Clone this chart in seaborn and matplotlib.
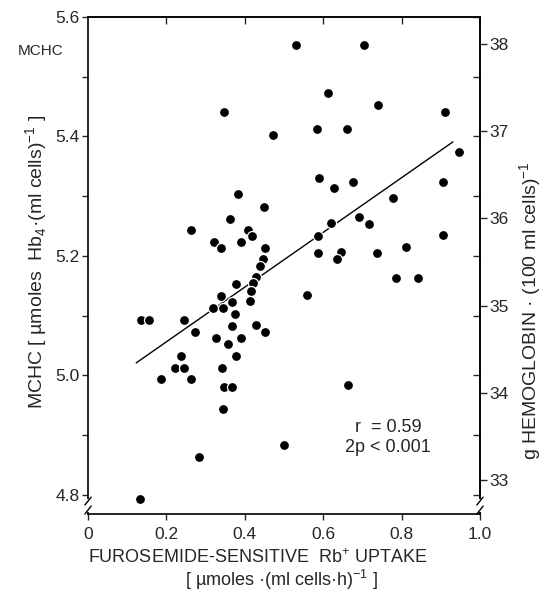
import matplotlib
matplotlib.use("Agg")
import matplotlib.pyplot as plt
from matplotlib.ticker import MultipleLocator, FixedLocator, NullFormatter
import pandas as pd
import seaborn as sns

# values
uptake = [0.531, 0.703, 0.613, 0.741, 0.910, 0.346, 0.585, 0.662, 0.472, 0.946,
          0.590, 0.628, 0.677, 0.905, 0.779, 0.382, 0.449, 0.362, 0.264, 0.408,
          0.418, 0.321, 0.390, 0.338, 0.451, 0.446, 0.438, 0.428, 0.421, 0.415,
          0.377, 0.338, 0.367, 0.318, 0.344, 0.413, 0.374, 0.559, 0.136, 0.156,
          0.246, 0.367, 0.428, 0.274, 0.451, 0.326, 0.390, 0.356, 0.236, 0.377,
          0.221, 0.244, 0.341, 0.185, 0.262, 0.692, 0.718, 0.621, 0.587, 0.905,
          0.587, 0.646, 0.636, 0.738, 0.810, 0.785, 0.841, 0.346, 0.367, 0.344,
          0.500, 0.282, 0.133, 0.664]
mchc = [5.553, 5.553, 5.473, 5.453, 5.441, 5.441, 5.413, 5.413, 5.403, 5.374,
        5.331, 5.314, 5.324, 5.324, 5.297, 5.304, 5.282, 5.262, 5.244, 5.244,
        5.233, 5.223, 5.223, 5.213, 5.213, 5.195, 5.183, 5.165, 5.155, 5.141,
        5.153, 5.133, 5.123, 5.113, 5.113, 5.125, 5.103, 5.135, 5.093, 5.093,
        5.093, 5.083, 5.085, 5.073, 5.073, 5.063, 5.063, 5.053, 5.033, 5.033,
        5.013, 5.013, 5.013, 4.994, 4.994, 5.265, 5.254, 5.255, 5.233, 5.235,
        5.205, 5.207, 5.195, 5.205, 5.215, 5.163, 5.163, 4.981, 4.981, 4.944,
        4.884, 4.864, 4.793, 4.984]

fit_x = [0.123, 0.931]
fit_y = [5.021, 5.391]

x_ticks = [0, 0.2, 0.4, 0.6, 0.8, 1.0]
x_tick_labels = ["0", "0.2", "0.4", "0.6", "0.8", "1.0"]
y_ticks = [4.8, 5.0, 5.2, 5.4, 5.6]
hb_ticks = [33, 34, 35, 36, 37, 38]
g_per_umol = 6.84  # g hemoglobin / 100 ml per umol Hb4 / ml

df = pd.DataFrame({"uptake": uptake, "mchc": mchc})
fit = pd.DataFrame({"uptake": fit_x, "mchc": fit_y})

sns.set_style("white")
plt.rcParams["font.family"] = ["Liberation Sans", "DejaVu Sans"]
plt.rcParams["mathtext.fontset"] = "custom"
plt.rcParams["mathtext.rm"] = "Liberation Sans"

fig = plt.figure(figsize=(5.45, 5.93), dpi=100)
ax = fig.add_axes([0.1615, 0.1332, 0.7192, 0.8381])

sns.lineplot(data=fit, x="uptake", y="mchc", color="black", linewidth=1.0, ax=ax, zorder=2)
sns.scatterplot(data=df, x="uptake", y="mchc", color="black", s=52,
                edgecolor="white", linewidth=0.9, ax=ax, zorder=3)

ax.set_xlim(0, 1.0)
ax.set_ylim(4.768, 5.6)
ax.set_xlabel("")
ax.set_ylabel("")

ax.set_xticks(x_ticks)
ax.set_xticklabels(x_tick_labels)
ax.set_yticks(y_ticks)
ax.set_yticklabels([f"{v:.1f}" for v in y_ticks])
ax.yaxis.set_minor_locator(MultipleLocator(0.1))
ax.tick_params(axis="both", which="both", direction="out", length=4, width=1,
               labelsize=12.5, pad=2, top=False, right=False, left=True, bottom=True)
ax.tick_params(axis="x", pad=5)

for s in ax.spines.values():
    s.set_linewidth(1.2)
    s.set_color("black")

# inward ticks on top
top = ax.secondary_xaxis("top")
top.xaxis.set_major_locator(FixedLocator([0.2, 0.4, 0.6, 0.8]))
top.tick_params(direction="in", length=5, width=1, labeltop=False)
top.spines["top"].set_linewidth(1.2)

# inward MCHC ticks on the right side
rin = ax.secondary_yaxis("right")
rin.yaxis.set_major_locator(MultipleLocator(0.1))
rin.yaxis.set_major_formatter(NullFormatter())
rin.tick_params(direction="in", length=5, width=1)
rin.spines["right"].set_linewidth(1.2)

# outward hemoglobin scale on the right
hb = ax.secondary_yaxis("right", functions=(lambda v: v * g_per_umol, lambda g: g / g_per_umol))
hb.set_yticks(hb_ticks)
hb.set_yticklabels([str(t) for t in hb_ticks])
hb.tick_params(direction="out", length=5, width=1, labelsize=12.5, pad=2)
hb.spines["right"].set_linewidth(1.2)

# axis break marks near the bottom corners
for xpos in (0.0, 1.0):
    ax.plot([xpos, xpos], [0.008, 0.026], transform=ax.transAxes, color="white",
            linewidth=3, clip_on=False, zorder=5)
    for yb in (0.008, 0.026):
        ax.plot([xpos - 0.008, xpos + 0.008], [yb - 0.008, yb + 0.008],
                transform=ax.transAxes, color="black", linewidth=1, clip_on=False, zorder=6)

ax.text(0.765, 0.175, "r  = 0.59", transform=ax.transAxes, ha="center", va="center", fontsize=13)
ax.text(0.765, 0.133, "2p < 0.001", transform=ax.transAxes, ha="center", va="center", fontsize=13)

fig.text(0.075, 0.914, "MCHC", ha="center", va="center", fontsize=11)
fig.text(0.068, 0.558, "MCHC [ µmoles  Hb$_4$·(ml cells)$^{-1}$ ]", rotation=90,
         ha="center", va="center", fontsize=14)
fig.text(0.973, 0.477, "g HEMOGLOBIN · (100 ml cells)$^{-1}$", rotation=90,
         ha="center", va="center", fontsize=14)
fig.text(0.472, 0.059, "FUROSEMIDE-SENSITIVE  Rb$^{+}$ UPTAKE", ha="center", va="center", fontsize=13)
fig.text(0.516, 0.022, "[ µmoles ·(ml cells·h)$^{-1}$ ]", ha="center", va="center", fontsize=13)

fig.savefig("out.png", dpi=100)
